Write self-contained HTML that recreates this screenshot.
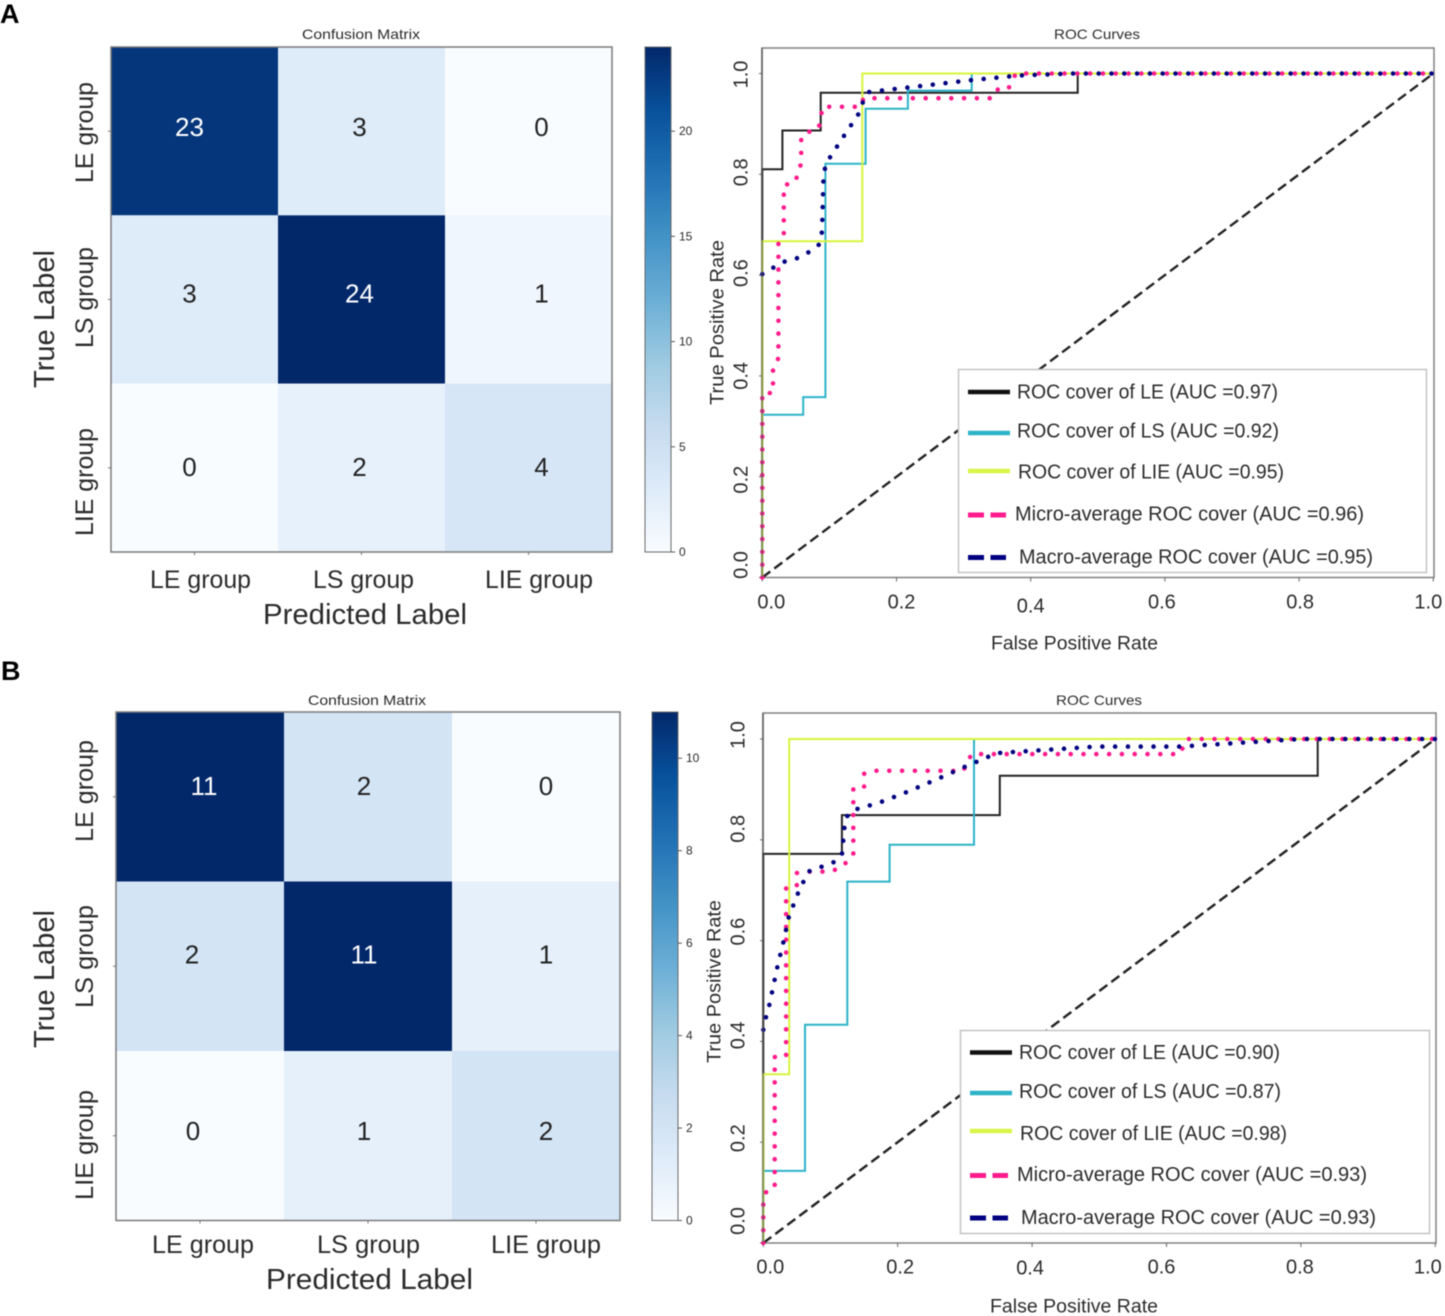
<!DOCTYPE html>
<html lang="en">
<head>
<meta charset="utf-8">
<title>Confusion matrices and ROC curves</title>
<style>
html,body{margin:0;padding:0;background:#fff;width:1445px;height:1316px;overflow:hidden}
svg{display:block;filter:blur(0.45px)}
text{font-family:"Liberation Sans",sans-serif;fill:#2b2b2b;dominant-baseline:central}
</style>
</head>
<body>
<svg id="fig" xmlns="http://www.w3.org/2000/svg" width="1445" height="1316" viewBox="0 0 1445 1316">
  <defs>
    <linearGradient id="blues" x1="0" y1="1" x2="0" y2="0">
      <stop offset="0" stop-color="#f9fcff"/><stop offset="0.125" stop-color="#deebf9"/><stop offset="0.25" stop-color="#c6dbef"/>
      <stop offset="0.375" stop-color="#9ecae1"/><stop offset="0.5" stop-color="#6baed6"/><stop offset="0.625" stop-color="#4292c6"/>
      <stop offset="0.75" stop-color="#2171b5"/><stop offset="0.875" stop-color="#08519c"/><stop offset="1" stop-color="#03286a"/>
    </linearGradient>
  </defs>
  <text x="0" y="14" font-size="27" font-weight="bold" style="fill:#000">A</text>
  <text x="1" y="671" font-size="27" font-weight="bold" style="fill:#000">B</text>

  <g id="cmA">
    <text x="302" y="34" font-size="14" textLength="118" lengthAdjust="spacingAndGlyphs">Confusion Matrix</text>
    <text x="263" y="615" font-size="29" textLength="204" lengthAdjust="spacingAndGlyphs">Predicted Label</text>
    <text transform="translate(45,388) rotate(-90)" font-size="29" textLength="138" lengthAdjust="spacingAndGlyphs">True Label</text>
  </g>
  <g id="rocA">
    <text x="1054" y="34" font-size="14" textLength="86" lengthAdjust="spacingAndGlyphs">ROC Curves</text>
    <text x="991" y="644" font-size="19" textLength="167" lengthAdjust="spacingAndGlyphs">False Positive Rate</text>
    <text transform="translate(718,405) rotate(-90)" font-size="19" textLength="165" lengthAdjust="spacingAndGlyphs">True Positive Rate</text>
  </g>
  <g id="legendA">
    <rect x="958.5" y="369.5" width="468" height="203" fill="#fff" stroke="#c4c4c4" stroke-width="1.5"/>
    <line x1="968" x2="1010" y1="392" y2="392" stroke="#111" stroke-width="4.5"/>
    <text x="1017" y="392.5" font-size="20" textLength="261" lengthAdjust="spacingAndGlyphs">ROC cover of LE (AUC =0.97)</text>
    <line x1="968" x2="1010" y1="433" y2="433" stroke="#2db3c8" stroke-width="4.5"/>
    <text x="1017" y="431.5" font-size="20" textLength="262" lengthAdjust="spacingAndGlyphs">ROC cover of LS (AUC =0.92)</text>
    <line x1="968" x2="1010" y1="471" y2="471" stroke="#d8f548" stroke-width="4.5"/>
    <text x="1018" y="472.5" font-size="20" textLength="266" lengthAdjust="spacingAndGlyphs">ROC cover of LIE (AUC =0.95)</text>
    <line x1="968" x2="1006" y1="515" y2="515" stroke="#ff1a8c" stroke-width="5" stroke-dasharray="16 6.5"/>
    <text x="1015" y="514.5" font-size="20" textLength="349" lengthAdjust="spacingAndGlyphs">Micro-average ROC cover (AUC =0.96)</text>
    <line x1="968" x2="1006" y1="557.5" y2="557.5" stroke="#000080" stroke-width="5" stroke-dasharray="16 6.5"/>
    <text x="1019" y="557.5" font-size="20" textLength="354" lengthAdjust="spacingAndGlyphs">Macro-average ROC cover (AUC =0.95)</text>
  </g>

  <g id="cmB">
    <text x="308" y="700" font-size="14" textLength="118" lengthAdjust="spacingAndGlyphs">Confusion Matrix</text>
    <text x="266" y="1280" font-size="29" textLength="207" lengthAdjust="spacingAndGlyphs">Predicted Label</text>
    <text transform="translate(45,1048) rotate(-90)" font-size="29" textLength="138" lengthAdjust="spacingAndGlyphs">True Label</text>
  </g>
  <g id="rocB">
    <text x="1056" y="700" font-size="14" textLength="86" lengthAdjust="spacingAndGlyphs">ROC Curves</text>
    <text x="990" y="1307" font-size="19" textLength="168" lengthAdjust="spacingAndGlyphs">False Positive Rate</text>
    <text transform="translate(715,1063) rotate(-90)" font-size="19" textLength="163" lengthAdjust="spacingAndGlyphs">True Positive Rate</text>
  </g>
  <g id="legendB">
    <rect x="960.5" y="1030.5" width="469" height="203" fill="#fff" stroke="#c4c4c4" stroke-width="1.5"/>
    <line x1="970" x2="1012" y1="1052.5" y2="1052.5" stroke="#111" stroke-width="4.5"/>
    <text x="1019" y="1053" font-size="20" textLength="261" lengthAdjust="spacingAndGlyphs">ROC cover of LE (AUC =0.90)</text>
    <line x1="970" x2="1012" y1="1093" y2="1093" stroke="#2db3c8" stroke-width="4.5"/>
    <text x="1019" y="1092" font-size="20" textLength="262" lengthAdjust="spacingAndGlyphs">ROC cover of LS (AUC =0.87)</text>
    <line x1="970" x2="1012" y1="1131" y2="1131" stroke="#d8f548" stroke-width="4.5"/>
    <text x="1020" y="1134" font-size="20" textLength="267" lengthAdjust="spacingAndGlyphs">ROC cover of LIE (AUC =0.98)</text>
    <line x1="970" x2="1008" y1="1175.5" y2="1175.5" stroke="#ff1a8c" stroke-width="5" stroke-dasharray="16 6.5"/>
    <text x="1017" y="1175" font-size="20" textLength="350" lengthAdjust="spacingAndGlyphs">Micro-average ROC cover (AUC =0.93)</text>
    <line x1="970" x2="1008" y1="1218" y2="1218" stroke="#000080" stroke-width="5" stroke-dasharray="16 6.5"/>
    <text x="1021" y="1218" font-size="20" textLength="355" lengthAdjust="spacingAndGlyphs">Macro-average ROC cover (AUC =0.93)</text>
  </g>
</svg>
<script>
/* ---------- data: shared categories ---------- */
var categories = ['LE group', 'LS group', 'LIE group'];
var rocTicks = [0, 0.2, 0.4, 0.6, 0.8, 1];

/* ---------- data: confusion matrices ---------- */
var matrixA = [[23, 3, 0], [3, 24, 1], [0, 2, 4]];
var matrixB = [[11, 2, 0], [2, 11, 1], [0, 1, 2]];
var colorbarTicksA = [0, 5, 10, 15, 20];
var colorbarTicksB = [0, 2, 4, 6, 8, 10];

/* ---------- data: ROC curves, panel A ---------- */
var aLeFpr = [0, 0, 0.03, 0.03, 0.087, 0.087, 0.47, 0.47, 1];
var aLeTpr = [0, 0.81, 0.81, 0.887, 0.887, 0.962, 0.962, 1, 1];
var aLsFpr = [0, 0, 0.061, 0.061, 0.094, 0.094, 0.154, 0.154, 0.217, 0.217, 0.312, 0.312, 1];
var aLsTpr = [0, 0.323, 0.323, 0.358, 0.358, 0.821, 0.821, 0.93, 0.93, 0.966, 0.966, 1, 1];
var aLieFpr = [0, 0, 0.149, 0.149, 1];
var aLieTpr = [0, 0.667, 0.667, 1, 1];
var aMicroFpr = [0, 0, 0.016, 0.016, 0.024, 0.024, 0.024, 0.032, 0.032, 0.049, 0.058, 0.058, 0.069, 0.084, 0.09, 0.146, 0.151, 0.341, 0.349, 0.366, 0.378, 1];
var aMicroTpr = [0, 0.366, 0.366, 0.415, 0.435, 0.61, 0.663, 0.676, 0.778, 0.785, 0.822, 0.874, 0.884, 0.891, 0.934, 0.934, 0.951, 0.951, 0.968, 0.968, 1, 1];
var aMacroFpr = [0, 0.018, 0.035, 0.053, 0.07, 0.085, 0.089, 0.091, 0.094, 0.101, 0.122, 0.143, 0.15, 0.158, 0.312, 0.383, 0.463, 1];
var aMacroTpr = [0.602, 0.616, 0.628, 0.634, 0.646, 0.661, 0.686, 0.788, 0.818, 0.834, 0.877, 0.919, 0.943, 0.963, 0.987, 0.996, 1, 1];

/* ---------- data: ROC curves, panel B ---------- */
var bLeFpr = [0, 0, 0.117, 0.117, 0.352, 0.352, 0.825, 0.825, 1];
var bLeTpr = [0, 0.772, 0.772, 0.849, 0.849, 0.927, 0.927, 1, 1];
var bLsFpr = [0, 0, 0.062, 0.062, 0.125, 0.125, 0.188, 0.188, 0.3135, 0.3135, 1];
var bLsTpr = [0, 0.143, 0.143, 0.433, 0.433, 0.717, 0.717, 0.79, 0.79, 1, 1];
var bLieFpr = [0, 0, 0.0386, 0.0386, 1];
var bLieTpr = [0, 0.335, 0.335, 1, 1];
var bMicroFpr = [0, 0, 0.005, 0.017, 0.017, 0.034, 0.034, 0.05, 0.049, 0.067, 0.1, 0.117, 0.134, 0.134, 0.15, 0.15, 0.163, 0.278, 0.297, 0.31, 0.62, 0.63, 1];
var bMicroTpr = [0, 0.085, 0.104, 0.111, 0.369, 0.37, 0.704, 0.707, 0.734, 0.737, 0.737, 0.746, 0.77, 0.903, 0.905, 0.931, 0.937, 0.937, 0.936, 0.97, 0.97, 1, 1];
var bMacroFpr = [0, 0.004, 0.009, 0.021, 0.03, 0.038, 0.052, 0.067, 0.104, 0.117, 0.122, 0.134, 0.171, 0.207, 0.26, 0.295, 0.33, 0.347, 0.496, 0.62, 0.8, 1];
var bMacroTpr = [0.423, 0.448, 0.472, 0.548, 0.598, 0.647, 0.695, 0.737, 0.755, 0.769, 0.843, 0.859, 0.873, 0.891, 0.921, 0.942, 0.962, 0.972, 0.985, 0.985, 1, 1];

var NS = 'http://www.w3.org/2000/svg';
var BLUES = [[249,252,255],[222,235,249],[198,219,239],[158,202,225],[107,174,214],[66,146,198],[33,113,181],[8,81,156],[3,40,106]];

function blues(t) {
  var p = Math.max(0, Math.min(1, t)) * 8;
  var i = Math.min(7, Math.floor(p));
  var f = p - i;
  var c = [0, 1, 2].map(function (k) { return Math.round(BLUES[i][k] + (BLUES[i + 1][k] - BLUES[i][k]) * f); });
  return 'rgb(' + c.join(',') + ')';
}
function mk(parent, tag, attrs) {
  var el = document.createElementNS(NS, tag);
  for (var k in attrs) { el.setAttribute(k, attrs[k]); }
  parent.appendChild(el);
  return el;
}

function drawMatrix(root, prefix, matrix, cbTicks, L) {
  var n = matrix.length;
  var maxV = Math.max.apply(null, matrix.map(function (r) { return Math.max.apply(null, r); }));
  var colX = function (c) { return L.x0 + (L.x1 - L.x0) * c / n; };
  var rowY = function (r) { return L.y0 + (L.y1 - L.y0) * r / n; };

  matrix.forEach(function (row, r) {
    row.forEach(function (v, c) {
      var cell = mk(root, 'rect', { x: colX(c), y: rowY(r), width: colX(c + 1) - colX(c), height: rowY(r + 1) - rowY(r), fill: blues(v / maxV) });
      
      
    });
  });
  matrix.forEach(function (row, r) {
    row.forEach(function (v, c) {
      var t = mk(root, 'text', {
        x: colX(c) + (colX(1) - colX(0)) / 2 + L.annotDx[r][c],
        y: rowY(r) + (rowY(1) - rowY(0)) / 2 + L.annotDy[r],
        'font-size': 26, 'text-anchor': 'middle'
      });
      t.style.fill = v / maxV > 0.5 ? '#fff' : '#222';
      t.textContent = v;
      
      
    });
  });
  var frame = mk(root, 'rect', { x: L.x0, y: L.y0, width: L.x1 - L.x0, height: L.y1 - L.y0, fill: 'none', stroke: '#7a7a7a', 'stroke-width': 1.5 });
  
  

  categories.forEach(function (name, i) {
    var xt = mk(root, 'line', { x1: colX(i + 0.5), x2: colX(i + 0.5), y1: L.y1, y2: L.y1 + 3, stroke: '#777', 'stroke-width': 1 });
    
    
    var yt = mk(root, 'line', { x1: L.x0 - 3, x2: L.x0, y1: rowY(i + 0.5), y2: rowY(i + 0.5), stroke: '#777', 'stroke-width': 1 });
    
    
    var xl = mk(root, 'text', { x: L.xLabX[i], y: L.xLabY, 'font-size': 25, textLength: L.xLabW[i], lengthAdjust: 'spacingAndGlyphs' });
    xl.textContent = name;
    
    
    var yl = mk(root, 'text', { transform: 'translate(' + L.yLabX + ',' + L.yLabY[i] + ') rotate(-90)', 'font-size': 25, textLength: L.xLabW[i], lengthAdjust: 'spacingAndGlyphs' });
    yl.textContent = name;
    
    
  });

  var cbar = mk(root, 'rect', { x: L.cb0, y: L.y0, width: L.cb1 - L.cb0, height: L.y1 - L.y0, fill: 'url(#blues)', stroke: '#6a6a6a', 'stroke-width': 1 });
  
  
  var cbY = function (v) { return L.y1 - (L.y1 - L.y0) * v / maxV; };
  cbTicks.forEach(function (v) {
    var tick = mk(root, 'line', { x1: L.cb1, x2: L.cb1 + 4, y1: cbY(v), y2: cbY(v), stroke: '#555', 'stroke-width': 1 });
    
    
    var lab = mk(root, 'text', { x: L.cb1 + 8, y: cbY(v), 'font-size': 12 });
    lab.textContent = v;
    
    
  });
}

function drawRoc(root, prefix, series, L) {
  var px = function (v) { return L.xZero + L.xSpan * v; };
  var py = function (v) { return L.yZero - L.ySpan * v; };

  var frame = mk(root, 'rect', { x: L.x0, y: L.y0, width: L.x1 - L.x0, height: L.y1 - L.y0, fill: '#fff', stroke: '#808080', 'stroke-width': 1.5 });
  
  

  rocTicks.forEach(function (v, i) {
    var xt = mk(root, 'line', { x1: px(v), x2: px(v), y1: L.y1, y2: L.y1 + 4, stroke: '#666', 'stroke-width': 1 });
    
    
    var yt = mk(root, 'line', { x1: L.x0 - 3, x2: L.x0, y1: py(v), y2: py(v), stroke: '#666', 'stroke-width': 1 });
    
    
    var xl = mk(root, 'text', { x: px(v) + L.xLabDx[i], y: L.xLabY + L.xLabDy[i], 'font-size': 20, 'text-anchor': 'middle' });
    xl.textContent = v.toFixed(1);
    
    
    var yl = mk(root, 'text', { transform: 'translate(' + L.yLabX + ',' + (py(v) + L.yLabDy[i]) + ') rotate(-90)', 'font-size': 20, 'text-anchor': 'middle' });
    yl.textContent = v.toFixed(1);
    
    
  });

  var diag = mk(root, 'line', { x1: px(0), y1: py(0), x2: px(1), y2: py(1), stroke: '#222', 'stroke-width': 2.4, 'stroke-dasharray': '10 5' });
  
  

  series.forEach(function (s) {
    var pts = s.fpr.map(function (f, i) { return px(f).toFixed(1) + ',' + py(s.tpr[i]).toFixed(1); }).join(' ');
    var line = mk(root, 'polyline', { points: pts, fill: 'none', stroke: s.color, 'stroke-width': s.width, 'stroke-linejoin': 'miter' });
    if (s.dotted) {
      line.setAttribute('stroke-dasharray', '0 12.8');
      line.setAttribute('stroke-linecap', 'round');
    }
    
    
  });

  var spine = mk(root, 'line', { x1: L.x0, x2: L.x0, y1: L.y0, y2: L.y1, stroke: '#5a5a5a', 'stroke-width': 2, opacity: 0.6 });
  
  
}

function seriesOf(leF, leT, lsF, lsT, lieF, lieT, miF, miT, maF, maT) {
  return [
    { name: 'le', fpr: leF, tpr: leT, color: '#222', width: 2 },
    { name: 'ls', fpr: lsF, tpr: lsT, color: '#2db3c8', width: 2 },
    { name: 'lie', fpr: lieF, tpr: lieT, color: '#d8f53c', width: 2 },
    { name: 'micro', fpr: miF, tpr: miT, color: '#ff1a8c', width: 4.6, dotted: true },
    { name: 'macro', fpr: maF, tpr: maT, color: '#000080', width: 4.6, dotted: true }
  ];
}

drawMatrix(document.getElementById('cmA'), 'cm-a', matrixA, colorbarTicksA, {
  x0: 111, x1: 612, y0: 47, y1: 552, cb0: 645, cb1: 671,
  annotDx: [[-5, -2, 13], [-5, -2, 13], [-5, -2, 13]], annotDy: [-4, -6, -1],
  xLabX: [150, 313, 485], xLabY: 580, xLabW: [101, 101, 108],
  yLabX: 85, yLabY: [183, 348, 536]
});
drawMatrix(document.getElementById('cmB'), 'cm-b', matrixB, colorbarTicksB, {
  x0: 116, x1: 620, y0: 712, y1: 1220.5, cb0: 652, cb1: 678,
  annotDx: [[4, -4, 10], [-8, -4, 10], [-7, -4, 10]], annotDy: [-11, -12, -5],
  xLabX: [152, 317, 491], xLabY: 1245, xLabW: [102, 103, 110],
  yLabX: 85, yLabY: [842, 1008, 1200]
});
drawRoc(document.getElementById('rocA'), 'roc-a',
  seriesOf(aLeFpr, aLeTpr, aLsFpr, aLsTpr, aLieFpr, aLieTpr, aMicroFpr, aMicroTpr, aMacroFpr, aMacroTpr), {
  x0: 762, x1: 1434, y0: 48, y1: 577.5, xZero: 762.3, xSpan: 671, yZero: 577.5, ySpan: 504,
  xLabDx: [9, 5, 0, -3, 1, -5], xLabDy: [0, 0, 4, 0, 0, 0], xLabY: 602.5,
  yLabX: 741.5, yLabDy: [-12.5, 3, 0, -2, -2, 1]
});
drawRoc(document.getElementById('rocB'), 'roc-b',
  seriesOf(bLeFpr, bLeTpr, bLsFpr, bLsTpr, bLieFpr, bLieTpr, bMicroFpr, bMicroTpr, bMacroFpr, bMacroTpr), {
  x0: 763, x1: 1436, y0: 713, y1: 1243, xZero: 763.3, xSpan: 672, yZero: 1243, ySpan: 504,
  xLabDx: [7, 2.5, -2, -5, -1, -7.5], xLabDy: [0, 0, 1, 0, 0, 0], xLabY: 1267.5,
  yLabX: 738.5, yLabDy: [-22, -4, -6, -9, -11, -4]
});
/* keep legends painted above the plots */
var fig = document.getElementById('fig');
fig.appendChild(document.getElementById('legendA'));
fig.appendChild(document.getElementById('legendB'));
</script>
</body>
</html>
